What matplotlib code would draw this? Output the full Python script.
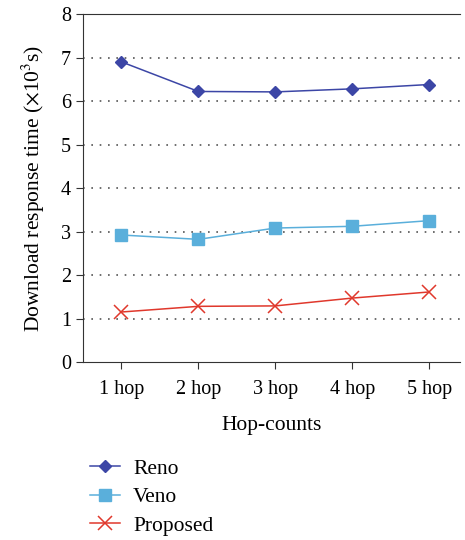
import matplotlib
matplotlib.use("Agg")
from matplotlib import pyplot as plt

hops = ["1 hop", "2 hop", "3 hop", "4 hop", "5 hop"]
reno = [6.90, 6.22, 6.21, 6.28, 6.38]
veno = [2.92, 2.82, 3.08, 3.12, 3.25]
proposed = [1.15, 1.28, 1.29, 1.47, 1.61]

plt.rcParams['font.family'] = ['Liberation Serif', 'DejaVu Serif']
plt.rcParams['mathtext.fontset'] = 'stix'

fig = plt.figure(figsize=(4.65, 5.4), dpi=100)
ax = fig.add_axes([0.1785, 0.3296, 0.8105, 0.6444])

x = list(range(1, len(hops) + 1))
ax.plot(x, reno, color='#3C46A6', marker='D', markersize=6, lw=1.1, label='Reno')
ax.plot(x, veno, color='#5AAFDB', marker='s', markersize=8, lw=1.1, label='Veno')
ax.plot(x, proposed, color='#E0382C', marker='x', markersize=10, mew=1.1, lw=1.1, label='Proposed')

ax.set_xlim(0.5, 5.4)
ax.set_ylim(0, 8)
ax.set_xticks(x)
ax.set_xticklabels(hops)
ax.set_yticks(range(0, 9))
ax.tick_params(labelsize=14.5, direction='out', length=5, color='#333333')
ax.tick_params(axis='x', pad=8)

# dotted gridlines only between the spines
for yv in range(1, 8):
    ax.axhline(yv, linestyle=(0, (1, 4)), color='#555555', lw=1.2, zorder=0)
ax.spines['right'].set_visible(False)
for s in ['left', 'bottom', 'top']:
    ax.spines[s].set_color('#333333')

ax.set_xlabel('Hop-counts', fontsize=15.5, labelpad=12)
ax.set_ylabel(r'Download response time ($\times$10$^3$s)', fontsize=15.5, labelpad=10)

fig.legend(loc='upper left', bbox_to_anchor=(0.175, 0.167), frameon=False,
           fontsize=15.5, handlelength=1.4, handletextpad=0.6, labelspacing=0.4, borderaxespad=0)

fig.savefig("out.png", dpi=100)
